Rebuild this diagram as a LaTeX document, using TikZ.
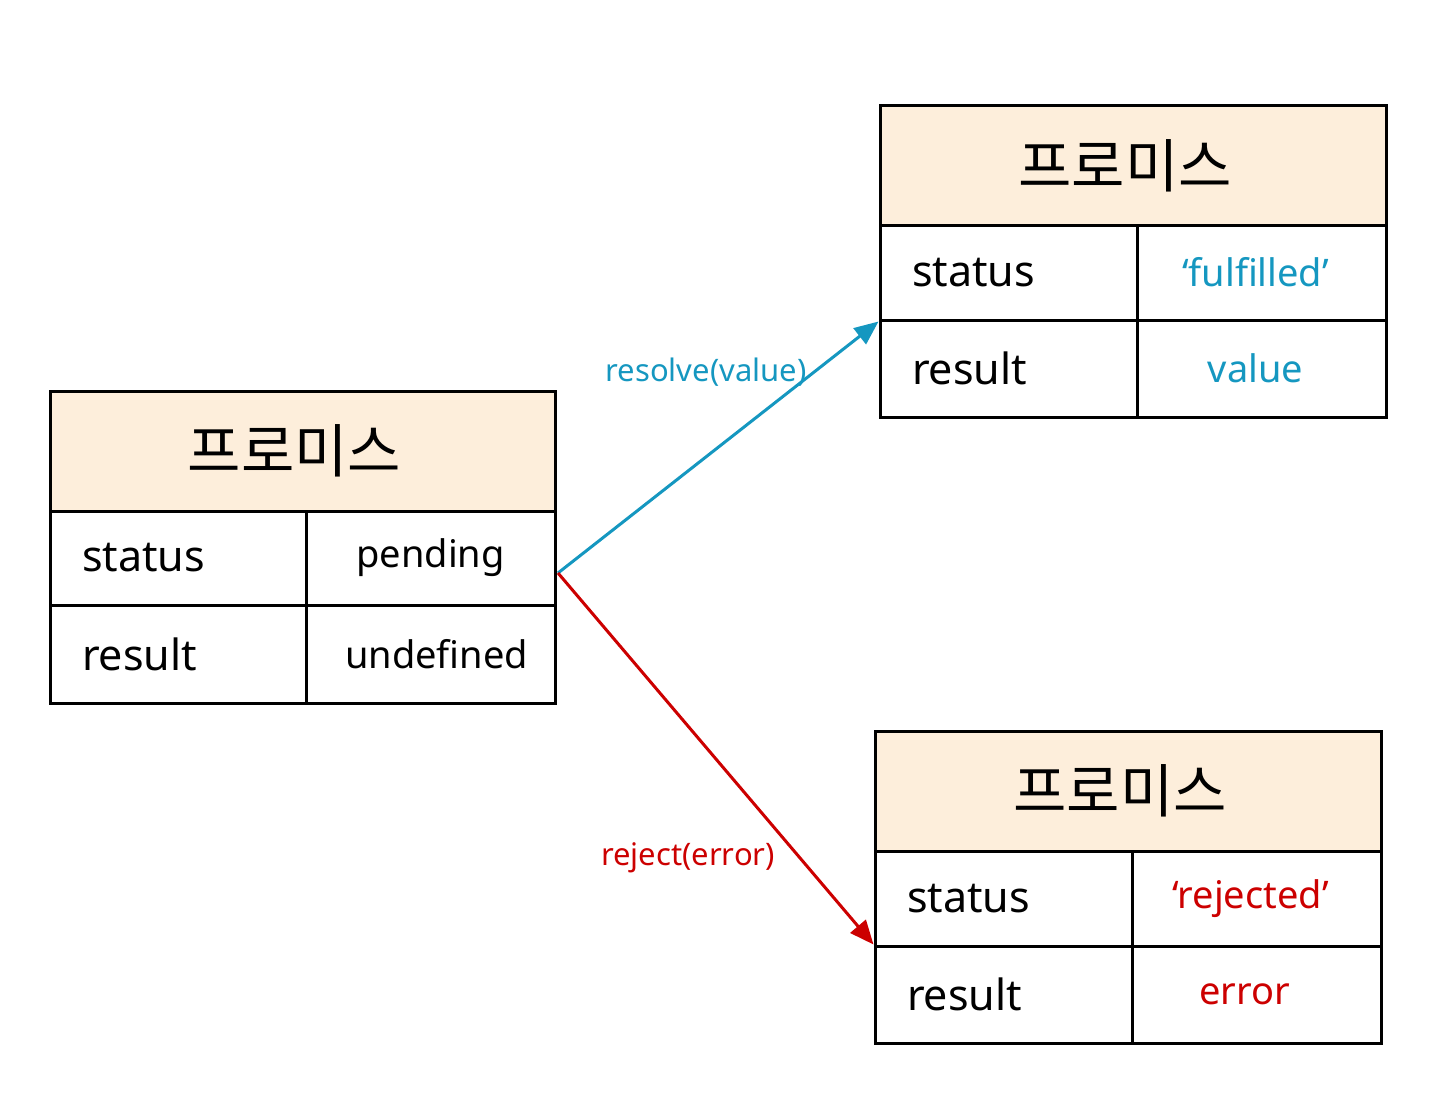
\documentclass[tikz,border=0pt]{standalone}
\usepackage{fontspec}
\setmainfont{Noto Sans}
\newfontfamily\kor{Noto Sans CJK KR}
\usetikzlibrary{arrows.meta}
\definecolor{peach}{RGB}{253,238,219}
\definecolor{resblue}{RGB}{21,151,192}
\definecolor{rejred}{RGB}{204,0,0}
\tikzset{
  hdr/.style={draw=black, line width=3pt, fill=peach, inner sep=0pt, font=\kor\fontsize{58}{64}\selectfont},
  keycell/.style={draw=black, line width=3pt, inner xsep=32pt, inner ysep=0pt, align=left, font=\fontsize{43}{50}\selectfont},
  valcell/.style={draw=black, line width=3pt, inner sep=0pt, align=center, font=\fontsize{38}{46}\selectfont},
  edgelabel/.style={inner sep=0pt, font=\fontsize{31}{36}\selectfont},
  conn/.style={line width=3pt, -{Triangle[length=24pt,width=20pt]}}
}
\begin{document}
\begin{tikzpicture}[x=1pt,y=-1pt]
\useasboundingbox (0,0) rectangle (1439,1110);
% left promise (pending)
\node[hdr, minimum width=505pt, minimum height=120pt] (lh) at (302.5,451) {프로미스\hspace*{16pt}};
\node[keycell, text width=192pt, minimum height=94pt] (lk1) at (178,558) {status};
\node[valcell, text width=249pt, minimum height=94pt] (lv1) at (430.5,558) {pending};
\node[keycell, text width=192pt, minimum height=98pt] (lk2) at (178,654) {result};
\node[valcell, text width=249pt, minimum height=98pt] (lv2) at (430.5,654) {\hspace*{12pt}undefined};
% top right promise (fulfilled)
\node[hdr, minimum width=506pt, minimum height=119pt] (th) at (1133,165.5) {프로미스\hspace*{16pt}};
\node[keycell, text width=193pt, minimum height=95pt] (tk1) at (1008.5,272.5) {status};
\node[valcell, text width=249pt, minimum height=95pt, text=resblue] (tv1) at (1261.5,272.5) {`fulfilled'\hspace*{12pt}};
\node[keycell, text width=193pt, minimum height=97pt] (tk2) at (1008.5,368.5) {result};
\node[valcell, text width=249pt, minimum height=97pt, text=resblue] (tv2) at (1261.5,368.5) {value\hspace*{12pt}};
% bottom right promise (rejected)
\node[hdr, minimum width=506pt, minimum height=120pt] (bh) at (1128,791) {프로미스\hspace*{16pt}};
\node[keycell, text width=193pt, minimum height=95pt] (bk1) at (1003.5,898.5) {status};
\node[valcell, text width=249pt, minimum height=95pt, text=rejred] (bv1) at (1256.5,898.5) {`rejected'\hspace*{12pt}};
\node[keycell, text width=193pt, minimum height=97pt] (bk2) at (1003.5,994.5) {result};
\node[valcell, text width=249pt, minimum height=97pt, text=rejred] (bv2) at (1256.5,994.5) {error\hspace*{24pt}};
% connectors
\coordinate (fork) at (558,573);
\draw[conn, resblue] (fork) -- (tk1.south west);
\draw[conn, rejred] (fork) -- (bk2.north west);
\node[edgelabel, text=resblue] (reslbl) at (706,372) {resolve(value)};
\node[edgelabel, text=rejred] (rejlbl) at (688,858) {reject(error)};
\end{tikzpicture}
\end{document}
